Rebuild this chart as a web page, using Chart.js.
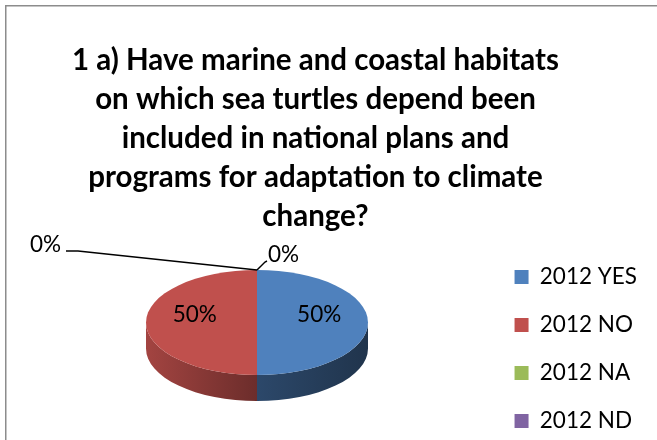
<!DOCTYPE html>
<html>
<head>
<meta charset="utf-8">
<script src="https://cdn.jsdelivr.net/npm/chart.js@4.4.0/dist/chart.umd.min.js"></script>
<style>
    html, body { margin: 0; padding: 0; background: #fff; }
    canvas { display: block; }
</style>
</head>
<body>
<canvas id="pie3d" width="657" height="440"></canvas>
<script>
const titleLines = [
    '1 a) Have marine and coastal habitats',
    'on which sea turtles depend been',
    'included in national plans and',
    'programs for adaptation to climate',
    'change?'
]
const categories = ['2012 YES', '2012 NO', '2012 NA', '2012 ND']
const shares = [50, 50, 0, 0]
const sliceColors = ['#4F81BD', '#C0504D', '#9BBB59', '#8064A2']

const FONT = "Lato, Calibri, 'Open Sans', sans-serif"

// where the flattened (3D looking) pie ends up on the page
const pie = { cx: 257, cy: 322.5, rx: 111, ry: 52.5, depth: 26 }

function shade(hex, f) {
    const n = parseInt(hex.slice(1), 16)
    const r = Math.round(((n >> 16) & 255) * f)
    const g = Math.round(((n >> 8) & 255) * f)
    const b = Math.round((n & 255) * f)
    return 'rgb(' + r + ',' + g + ',' + b + ')'
}

// gray frame of the chart object (only top and left edge visible)
const framePlugin = {
    id: 'frame',
    beforeDraw(chart) {
        const ctx = chart.ctx
        ctx.save()
        ctx.strokeStyle = '#8c8c8c'
        ctx.lineWidth = 1.5
        ctx.strokeRect(5.75, 5.75, 1000, 1000)
        ctx.restore()
    }
}

const pie3dPlugin = {
    id: 'pie3d',
    beforeDatasetsDraw(chart) {
        const ctx = chart.ctx
        const meta = chart.getDatasetMeta(0)
        const first = meta.data[0]
        const { x, y, outerRadius } = first.getProps(['x', 'y', 'outerRadius'], true)

        // side wall, front half only (canvas angles 0..PI)
        meta.data.forEach((arc, i) => {
            const { startAngle, endAngle } = arc.getProps(['startAngle', 'endAngle'], true)
            const a = Math.max(startAngle, 0)
            const b = Math.min(endAngle, Math.PI)
            if (b <= a) return
            const base = sliceColors[i]
            const grad = ctx.createLinearGradient(pie.cx - pie.rx, 0, pie.cx + pie.rx, 0)
            grad.addColorStop(0, shade(base, 0.85))
            grad.addColorStop(0.5, shade(base, 0.56))
            grad.addColorStop(1, shade(base, 0.40))
            ctx.save()
            ctx.beginPath()
            ctx.ellipse(pie.cx, pie.cy, pie.rx, pie.ry, 0, a, b, false)
            ctx.ellipse(pie.cx, pie.cy + pie.depth, pie.rx, pie.ry, 0, b, a, true)
            ctx.closePath()
            ctx.fillStyle = grad
            ctx.fill()
            ctx.restore()
        })

        // squash the library's round pie into the ellipse
        ctx.save()
        ctx.translate(pie.cx, pie.cy)
        ctx.scale(pie.rx / outerRadius, pie.ry / outerRadius)
        ctx.translate(-x, -y)
    },
    afterDatasetsDraw(chart) {
        chart.ctx.restore()
    }
}

// percentage labels, zero slices get a leader line like in Excel
const outside = {
    2: { elbow: [78, 251], end: [66, 251], text: [61, 245], align: 'right' },
    3: { elbow: [265, 262], end: [267, 261], text: [268, 255], align: 'left' }
}

const labelPlugin = {
    id: 'sliceLabels',
    afterDatasetsDraw(chart) {
        const ctx = chart.ctx
        const meta = chart.getDatasetMeta(0)
        const total = shares.reduce((s, v) => s + v, 0)
        ctx.save()
        ctx.fillStyle = '#000'
        ctx.strokeStyle = '#000'
        ctx.lineWidth = 1.5
        ctx.font = '22.5px ' + FONT
        ctx.textBaseline = 'middle'
        meta.data.forEach((arc, i) => {
            const { startAngle, endAngle } = arc.getProps(['startAngle', 'endAngle'], true)
            const mid = (startAngle + endAngle) / 2
            const txt = Math.round(shares[i] / total * 100) + '%'
            if (shares[i] > 0) {
                ctx.textAlign = 'center'
                ctx.fillText(txt,
                    pie.cx + pie.rx * 0.56 * Math.cos(mid),
                    pie.cy + pie.ry * 0.56 * Math.sin(mid) - 8)
            } else {
                const o = outside[i]
                const ax = pie.cx + pie.rx * Math.cos(mid)
                const ay = pie.cy + pie.ry * Math.sin(mid)
                ctx.beginPath()
                ctx.moveTo(ax, ay)
                ctx.lineTo(o.elbow[0], o.elbow[1])
                ctx.lineTo(o.end[0], o.end[1])
                ctx.stroke()
                ctx.textAlign = o.align
                ctx.fillText(txt, o.text[0], o.text[1])
            }
        })
        ctx.restore()
    }
}

new Chart(document.getElementById('pie3d'), {
    type: 'pie',
    data: {
        labels: categories,
        datasets: [{
            data: shares,
            backgroundColor: sliceColors,
            borderWidth: 0,
            clip: false
        }]
    },
    options: {
        responsive: false,
        animation: false,
        events: [],
        // negative left/bottom so the title centre and legend column land where Excel put them
        layout: { padding: { left: -16, right: 10, top: 0, bottom: -17.75 } },
        plugins: {
            title: {
                display: true,
                text: titleLines,
                color: '#000',
                font: { family: FONT, size: 29.5, weight: 'bold', lineHeight: 1.322 },
                padding: { top: 41, bottom: 4 }
            },
            legend: {
                position: 'right',
                align: 'end',
                labels: {
                    boxWidth: 14,
                    boxHeight: 14,
                    padding: 25.5,
                    color: '#000',
                    font: { family: FONT, size: 22.5 }
                }
            },
            tooltip: { enabled: false }
        }
    },
    plugins: [framePlugin, pie3dPlugin, labelPlugin]
})
</script>
</body>
</html>
